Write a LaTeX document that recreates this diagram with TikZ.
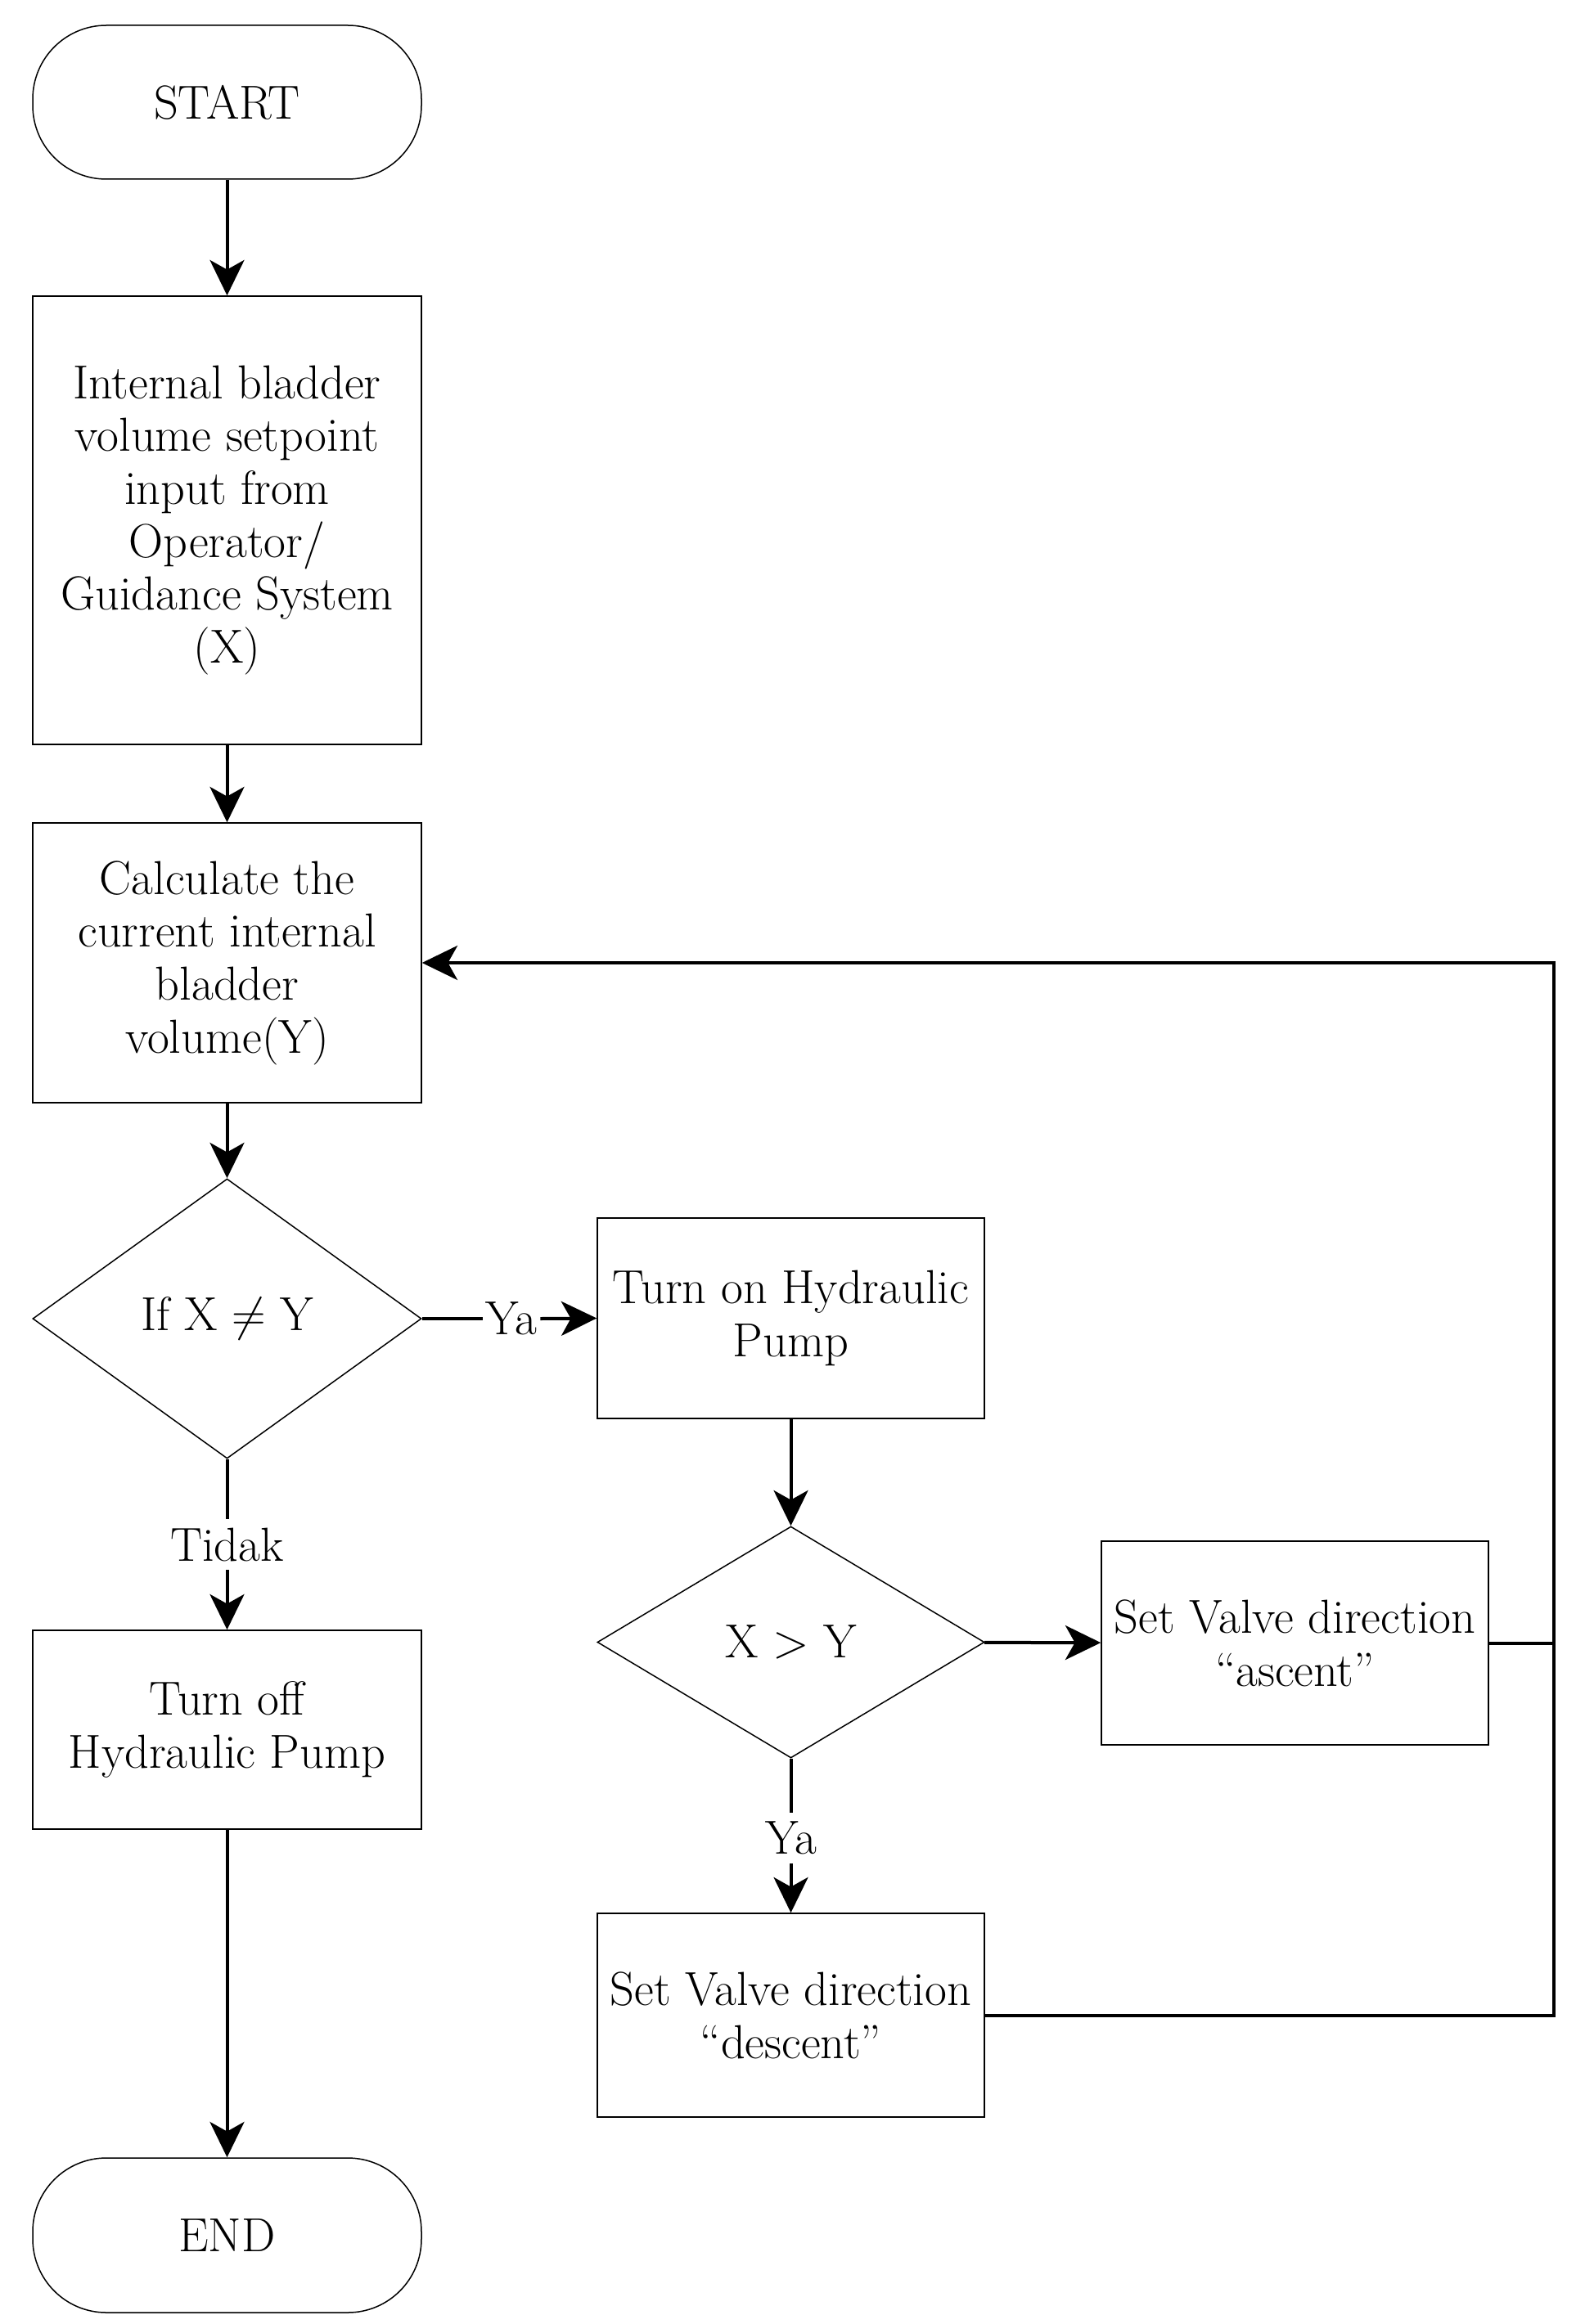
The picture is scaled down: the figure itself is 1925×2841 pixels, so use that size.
\documentclass[tikz,border=0pt]{standalone}
\usetikzlibrary{shapes.geometric,arrows.meta}
\begin{document}
\begin{tikzpicture}[x=0.3pt,y=-0.3pt,
  every node/.style={font=\fontsize{17.5}{19.4}\selectfont},
  box/.style={draw, line width=0.45pt, minimum width=142.5pt, align=center, inner sep=0pt},
  term/.style={box, rounded corners=27pt},
  dec/.style={draw, diamond, line width=0.45pt, inner sep=0pt, aspect=1.39, minimum width=142.5pt},
  conn/.style={line width=1.2pt},
  arr/.style={conn, -{Stealth[length=13pt,width=12.6pt,inset=3.5pt]}},
  lab/.style={inner sep=1pt}]
\useasboundingbox (0,0) rectangle (1925,2841);
\node[term, minimum height=56.4pt] (start) at (277.5,125) {START};
\node[box, minimum height=164.4pt] (b1) at (277.5,636) {Internal bladder\\volume setpoint\\input from\\Operator/\\Guidance System\\(X)};
\node[box, minimum height=102.6pt] (b2) at (277.5,1177) {Calculate the\\current internal\\bladder\\volume(Y)};
\node[dec, minimum height=102.6pt] (d1) at (277.5,1612) {If X $\neq$ Y};
\node[box, minimum width=141.9pt, minimum height=73.5pt] (on) at (966.5,1611.5) {Turn on Hydraulic\\Pump};
\node[dec, minimum width=141.9pt, minimum height=84.9pt, aspect=1.67] (d2) at (966.5,2007.5) {X > Y};
\node[box, minimum width=141.9pt, minimum height=74.7pt] (asc) at (1582.5,2008.5) {Set Valve direction\\``ascent''};
\node[box, minimum height=72.9pt] (off) at (277.5,2114.5) {Turn off\\Hydraulic Pump};
\node[box, minimum width=141.9pt, minimum height=74.7pt] (desc) at (966.5,2463.5) {Set Valve direction\\``descent''};
\node[term, minimum height=56.7pt] (end) at (277.5,2732.5) {END};
\node[lab] (ya1) at (625,1612) {Ya};
\node[lab, inner sep=3pt] (tidak) at (277.5,1888) {Tidak};
\node[lab, inner sep=3pt] (ya2) at (966.5,2247) {Ya};
\coordinate (lp) at (1899,1177);
\draw[arr] (start) -- (b1);
\draw[arr] (b1) -- (b2);
\draw[arr] (b2) -- (d1);
\draw[conn] (d1.east) -- (ya1.west);
\draw[arr] (ya1.east) -- (on.west);
\draw[conn] (d1.south) -- (tidak.north);
\draw[arr] (tidak.south) -- (off.north);
\draw[arr] (on) -- (d2);
\draw[arr] (d2) -- (asc);
\draw[conn] (d2.south) -- (ya2.north);
\draw[arr] (ya2.south) -- (desc.north);
\draw[arr] (off) -- (end);
\draw[conn] (asc.east) -- (asc.east -| lp);
\draw[arr] (desc.east) -- (desc.east -| lp) -- (lp) -- (b2.east);
\end{tikzpicture}
\end{document}
